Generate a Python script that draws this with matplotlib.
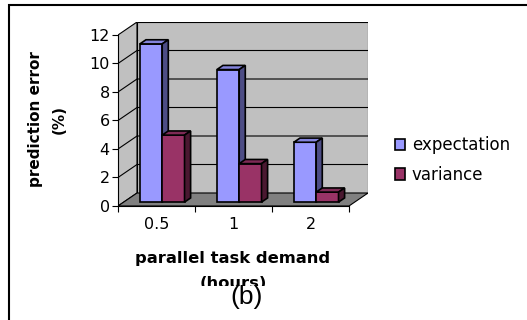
import matplotlib
matplotlib.use("Agg")
import matplotlib.pyplot as plt
from matplotlib.patches import Polygon, Rectangle, Patch

# data
categories = ["0.5", "1", "2"]
expectation = [11.1, 9.3, 4.2]
variance = [4.7, 2.7, 0.7]
series_names = ["expectation", "variance"]
yticks = [0, 2, 4, 6, 8, 10, 12]

W, H = 527, 320
fig = plt.figure(figsize=(W / 100, H / 100), dpi=100)
fig.patch.set_facecolor("white")

# oblique depth vector of the 3d box (category units, value units)
DX, DY = 0.247, 0.912
ymax = 12

ax = fig.add_axes([118 / W, 114 / H, 250 / W, 184 / H])
ax.set_xlim(0, len(categories) + DX)
ax.set_ylim(0, ymax + DY)
ax.patch.set_visible(False)

n = len(categories)
wall = "#C0C0C0"
floor = "#808080"

def poly(pts, fc, z, lw=0.8):
    ax.add_patch(Polygon(pts, closed=True, facecolor=fc, edgecolor="black",
                         linewidth=lw, zorder=z))

# walls and floor
poly([(0, 0), (DX, DY), (DX, ymax + DY), (0, ymax)], wall, 1)
poly([(DX, DY), (n + DX, DY), (n + DX, ymax + DY), (DX, ymax + DY)], wall, 1)
poly([(0, 0), (n, 0), (n + DX, DY), (DX, DY)], floor, 1)

# gridlines on left and back walls
for v in yticks[1:-1]:
    ax.plot([0, DX, n + DX], [v, v + DY, v + DY], color="black", lw=0.8, zorder=1.5)

# bars
colors = {
    "expectation": ("#9999FF", "#8484DC", "#4D4D85"),
    "variance": ("#993366", "#7E2A55", "#4A1830"),
}
gap = 0.21
bw = (1 - 2 * gap) / 2
d0, d1 = 0.30, 0.62
for i in range(n):
    for j, (name, vals) in enumerate(zip(series_names, [expectation, variance])):
        front, top, side = colors[name]
        v = vals[i]
        x0 = i + gap + j * bw + d0 * DX
        y0 = d0 * DY
        x1 = x0 + bw
        ddx, ddy = (d1 - d0) * DX, (d1 - d0) * DY
        z = 3 + i + j * 0.1
        poly([(x0, y0), (x1, y0), (x1, y0 + v), (x0, y0 + v)], front, z, 1.2)
        poly([(x0, y0 + v), (x1, y0 + v), (x1 + ddx, y0 + v + ddy), (x0 + ddx, y0 + v + ddy)], top, z, 1.2)
        poly([(x1, y0), (x1 + ddx, y0 + ddy), (x1 + ddx, y0 + v + ddy), (x1, y0 + v)], side, z, 1.2)

# axes lines and ticks
for s in ["top", "right"]:
    ax.spines[s].set_visible(False)
ax.spines["left"].set_bounds(0, ymax)
ax.spines["bottom"].set_bounds(0, n)
ax.spines["left"].set_zorder(2)
ax.spines["bottom"].set_zorder(2)
ax.set_yticks(yticks)
ax.set_yticklabels([str(t) for t in yticks])
ax.set_xticks(range(n + 1))
ax.set_xticklabels([])
ax.set_xticks([i + 0.5 for i in range(n)], minor=True)
ax.set_xticklabels(categories, minor=True)
ax.tick_params(axis="y", direction="out", length=4, width=0.8, pad=2, labelsize=11.5)
ax.tick_params(axis="x", which="major", direction="out", length=4, width=0.8)
ax.tick_params(axis="x", which="minor", length=0, pad=8, labelsize=11.5)

fig.text(36 / W, 1 - 119 / H, "prediction error", rotation=90, fontsize=11,
         fontweight="bold", ha="center", va="center")
fig.text(59 / W, 1 - 119 / H, "(%)", rotation=90, fontsize=11,
         fontweight="bold", ha="center", va="center")
fig.text(233 / W, 1 - 258 / H, "parallel task demand", fontsize=11.8,
         fontweight="bold", ha="center", va="center")
fig.text(233 / W, 1 - 283 / H, "(hours)", fontsize=11.8,
         fontweight="bold", ha="center", va="center")

# caption area covers the bottom of the axis title
fig.patches.append(Rectangle((140 / W, 0), 200 / W, 1 - 286 / H, transform=fig.transFigure,
                             facecolor="white", edgecolor="none", zorder=5))
fig.text(247 / W, 1 - 297 / H, "(b)", fontsize=19, family="Liberation Sans",
         ha="center", va="center", zorder=6)

# legend
handles = [Patch(facecolor=colors[s][0], edgecolor="black", linewidth=1.2) for s in series_names]
fig.legend(handles, series_names, loc="center left", bbox_to_anchor=(395 / W, 1 - 160 / H),
           frameon=False, fontsize=12, handlelength=0.6, handleheight=0.7,
           handletextpad=0.4, labelspacing=0.7, borderpad=0, borderaxespad=0)

# outer chart frame (top and left edges)
fig.patches.append(Rectangle((9 / W, -0.1), 1.2, 1.1 - 5 / H, transform=fig.transFigure,
                             fill=False, edgecolor="black", linewidth=1.5, zorder=7))

fig.savefig("out.png", dpi=100)
